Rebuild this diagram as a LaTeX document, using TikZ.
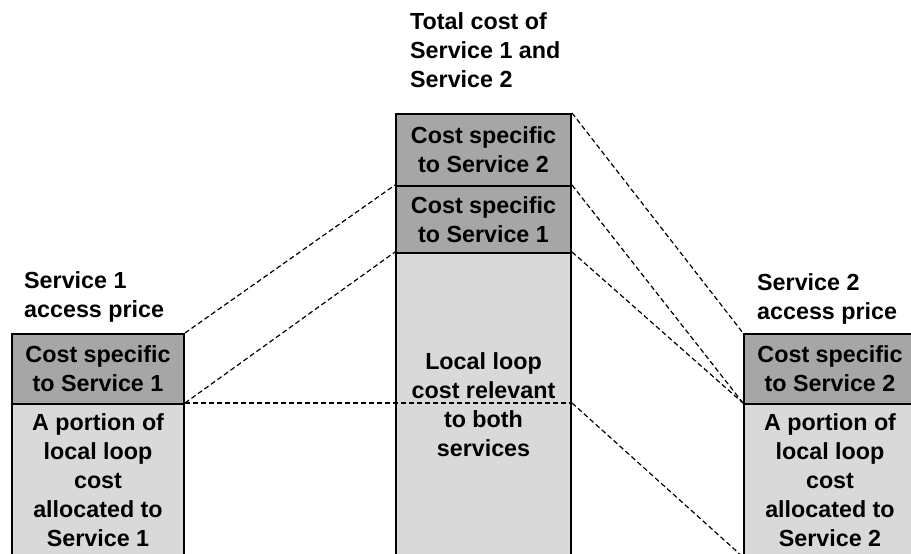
\documentclass[tikz,border=0pt]{standalone}
\usepackage{fontspec}
\setmainfont{Liberation Sans}
\usepackage{tikz}

\definecolor{specgray}{HTML}{A6A6A6}
\definecolor{sharegray}{HTML}{D9D9D9}

\tikzset{
    costbox/.style={draw=black, line width=2pt, rectangle, align=center, inner sep=0pt},
    specbox/.style={costbox, fill=specgray, minimum height=70pt},
    link/.style={line width=1.2pt, dash pattern=on 5pt off 3pt},
    caption/.style={align=left, anchor=north west, inner sep=0pt}
}

\begin{document}
\begin{tikzpicture}[x=1pt, y=-1pt, font=\fontsize{23.3}{29}\selectfont\bfseries]
                    \clip (0,0) rectangle (911,554);
                    \fill [white] (0,0) rectangle (911,554);
                    \node [caption] (ttitle) at (410,12) {Total cost of\\Service 1 and\\Service 2};
                    \node [caption] (ltitle) at (24,271) {Service 1\\access price};
                    \node [caption] (rtitle) at (757,273) {Service 2\\access price};
                    \node [specbox, minimum width=172pt] (lspec) at (98,369) {Cost specific\\to Service 1};
                    \node [costbox, fill=sharegray, minimum width=172pt, minimum height=152pt] (lshare) at (98,480) {A portion of\\local loop\\cost\\allocated to\\Service 1};
                    \node [specbox, minimum width=175pt, minimum height=72pt] (ttwo) at (483.5,150) {Cost specific\\to Service 2};
                    \node [specbox, minimum width=175pt, minimum height=67pt] (tone) at (483.5,219.5) {Cost specific\\to Service 1};
                    \node [costbox, fill=sharegray, minimum width=175pt, minimum height=304pt] (tshared) at (483.5,405) {Local loop\\cost relevant\\to both\\services};
                    \node [specbox, minimum width=172pt] (rspec) at (830,369) {Cost specific\\to Service 2};
                    \node [costbox, fill=sharegray, minimum width=172pt, minimum height=152pt] (rshare) at (830,480) {A portion of\\local loop\\cost\\allocated to\\Service 2};
                    \coordinate (split) at (tshared.east |- lshare.north);
                    \draw [link] (lspec.north east) -- (tone.north west);
                    \draw [link] (lshare.north east) -- (tshared.north west);
                    \draw [link] (lshare.north east) -- (split);
                    \draw [link] (ttwo.north east) -- (rspec.north west);
                    \draw [link] (tone.north east) -- (rshare.north west);
                    \draw [link] (tshared.north east) -- (rshare.north west);
                    \draw [link] (split) -- (rshare.south west);
                \end{tikzpicture}
\end{document}
